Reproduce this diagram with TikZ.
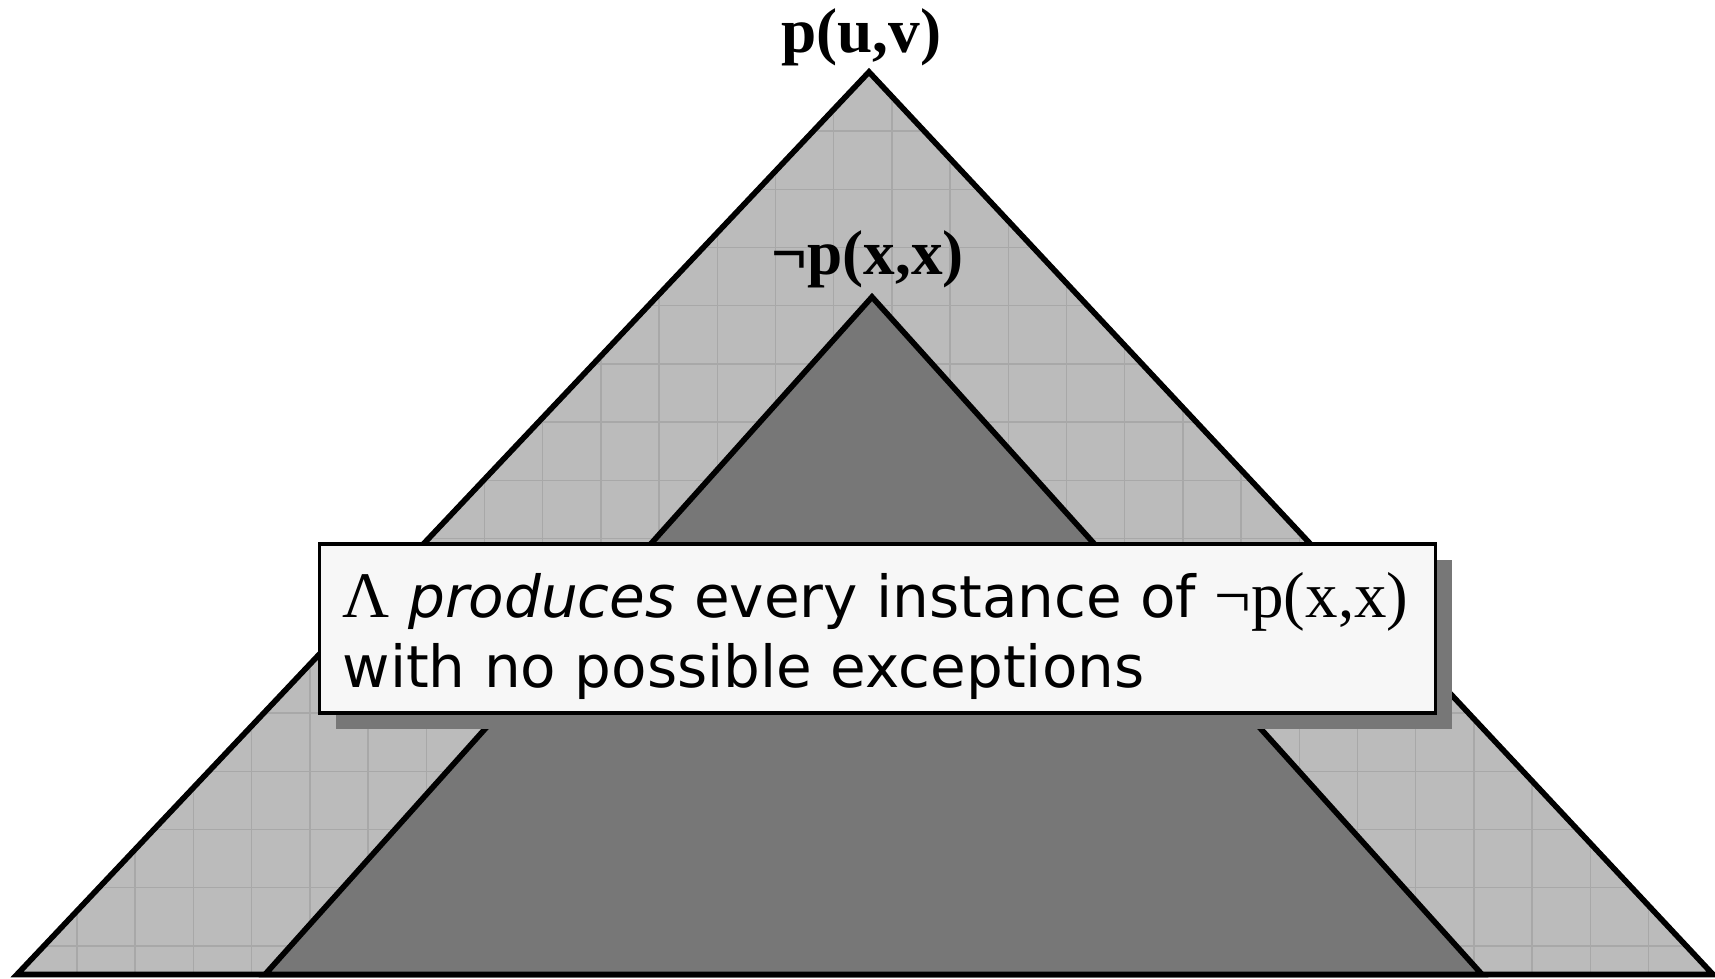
\documentclass[tikz,border=0pt]{standalone}
\usepackage{fontspec}
\setmainfont{Liberation Serif}
\newfontfamily\vsans{DejaVu Sans}
\newfontfamily\tms[Scale=1.12]{Liberation Serif}
\usetikzlibrary{shadows}
\definecolor{pyrlight}{HTML}{BBBBBB}
\definecolor{pyrgrid}{HTML}{A8A8A8}
\definecolor{pyrdark}{HTML}{777777}
\definecolor{notefill}{HTML}{F7F7F7}

\begin{document}
\begin{tikzpicture}[line join=miter,
          tri/.style={draw=black, line width=1.6pt},
          lbl/.style={font=\fontsize{18}{20}\selectfont\bfseries, inner sep=0pt, anchor=base},
          note/.style={draw=black, line width=1pt, fill=notefill, minimum width=11.16cm, minimum height=1.69cm, inner sep=0pt,
                       drop shadow={shadow xshift=0.16cm, shadow yshift=-0.16cm, fill=pyrdark, opacity=1}},
          notetxt/.style={font=\vsans\fontsize{16.5}{20}\selectfont, inner sep=0pt, anchor=base west}]
          \useasboundingbox (0,0) rectangle (17.15,9.79);
          % outer triangle, hatched with a fine grid
          \coordinate (oa) at (8.69,9.07);
          \coordinate (ol) at (0.17,0.045);
          \coordinate (or) at (17.13,0.045);
          \begin{scope}
            \clip (oa) -- (ol) -- (or) -- cycle;
            \fill[pyrlight] (0,0) rectangle (17.15,9.79);
            \draw[pyrgrid, line width=0.4pt, shift={(0.188,0.33)}, step=0.582] (-1,-1) grid (18,10);
          \end{scope}
          \draw[tri] (oa) -- (ol) -- (or) -- cycle;
          % inner triangle
          \coordinate (ia) at (8.72,6.82);
          \coordinate (il) at (2.65,0.045);
          \coordinate (ir) at (14.82,0.045);
          \draw[tri, fill=pyrdark] (ia) -- (il) -- (ir) -- cycle;
          \node[lbl] (puv) at (8.615,9.26) {p(u,v)};
          \node[lbl] (npxx) at (8.675,7.04) {¬p(x,x)};
          \node[note] (msg) at (8.775,3.505) {};
          \node[notetxt] (msgtop) at (3.42,3.61) {{\tms Λ} \textit{produces} every instance of {\tms ¬p(x,x)}};
          \node[notetxt] (msgbot) at (3.42,2.91) {with no possible exceptions};
        \end{tikzpicture}
\end{document}
